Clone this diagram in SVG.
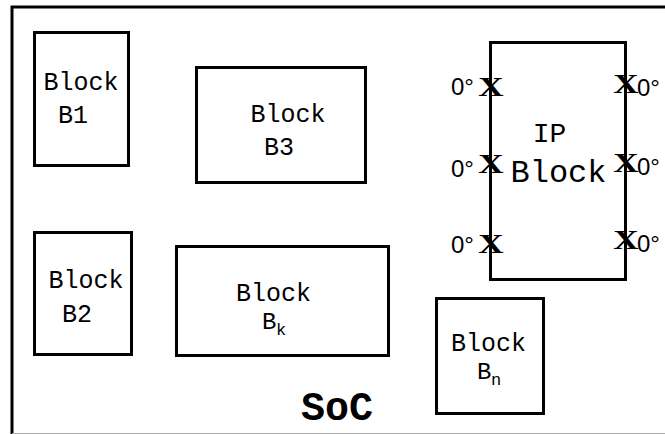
<svg xmlns="http://www.w3.org/2000/svg" width="665" height="434" viewBox="0 0 665 434">
<style>
.blk{fill:#fff;stroke:#000;stroke-width:3}
.t{font-family:"Liberation Mono","Courier New",monospace;font-size:25px;fill:#000;text-anchor:middle}
.ts{font-family:"Liberation Mono","Courier New",monospace;font-size:24px;fill:#000}
.sub{font-size:17px}
.deg{font-family:"Liberation Sans",Arial,sans-serif;font-size:24px;fill:#000}
.x{font-family:"Liberation Serif","Times New Roman",serif;font-weight:bold;font-size:27px;fill:#000;text-anchor:middle}
</style>
<rect width="665" height="434" fill="#fff"/>
<g id="soc">
<path d="M12 434 V7 H665" fill="none" stroke="#000" stroke-width="3"/>
<line x1="12" y1="433.5" x2="665" y2="433.5" stroke="#aaa" stroke-width="1"/>
<text x="337" y="420" font-family="'Liberation Mono','Courier New',monospace" font-weight="bold" font-size="40" text-anchor="middle">SoC</text>
</g>
<g id="b1">
<rect class="blk" x="34.5" y="32.5" width="94" height="133"/>
<text class="t" x="81" y="90">Block</text>
<text class="t" x="73" y="123">B1</text>
</g>
<g id="b3">
<rect class="blk" x="196.5" y="67.5" width="169" height="115"/>
<text class="t" x="288" y="122">Block</text>
<text class="t" x="279" y="155">B3</text>
</g>
<g id="b2">
<rect class="blk" x="34.5" y="232.5" width="97" height="122"/>
<text class="t" x="86" y="288">Block</text>
<text class="t" x="77" y="322">B2</text>
</g>
<g id="bk">
<rect class="blk" x="176.5" y="246.5" width="212" height="109"/>
<text class="t" x="273.5" y="301">Block</text>
<text class="ts" x="262" y="329">B<tspan class="sub" x="276" y="335">k</tspan></text>
</g>
<g id="bn">
<rect class="blk" x="436.5" y="298.5" width="107" height="115"/>
<text class="t" x="488.5" y="351">Block</text>
<text class="ts" x="477" y="379">B<tspan class="sub" x="491" y="385">n</tspan></text>
</g>
<g id="ip">
<rect class="blk" x="490.5" y="42.5" width="135" height="237" stroke-width="2.5"/>
<text class="t" x="549.5" y="142" style="font-size:28px">IP</text>
<text class="t" x="558.5" y="182" style="font-size:32px">Block</text>
<text class="x" transform="translate(491,96) scale(1.3,1)">X</text>
<text class="x" transform="translate(491,173) scale(1.3,1)">X</text>
<text class="x" transform="translate(491,253) scale(1.3,1)">X</text>
<text class="x" transform="translate(626,93) scale(1.3,1)">X</text>
<text class="x" transform="translate(626,172) scale(1.3,1)">X</text>
<text class="x" transform="translate(626,249) scale(1.3,1)">X</text>
<text class="deg" x="451" y="95">0°</text>
<text class="deg" x="451" y="177">0°</text>
<text class="deg" x="451" y="253">0°</text>
<text class="deg" x="637" y="96">0°</text>
<text class="deg" x="637" y="175">0°</text>
<text class="deg" x="637" y="252">0°</text>
</g>
<g id="connectors"/>
</svg>
